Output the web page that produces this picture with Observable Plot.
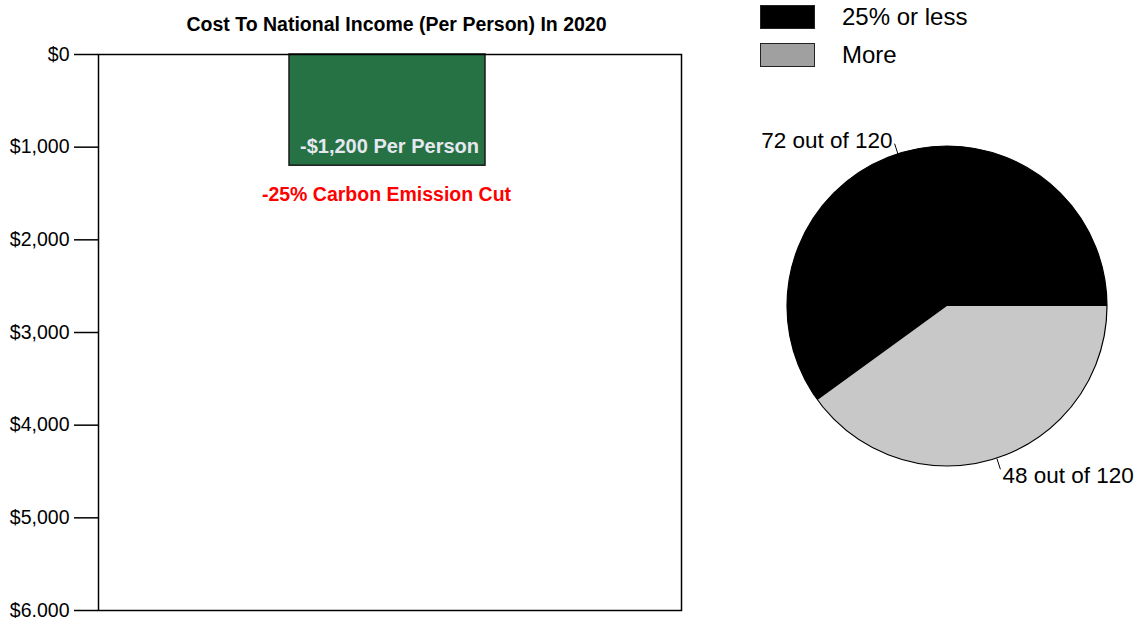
<!DOCTYPE html>
<html>
<head>
<meta charset="utf-8">
<script src="https://cdn.jsdelivr.net/npm/d3@7"></script>
<script src="https://cdn.jsdelivr.net/npm/@observablehq/plot@0.6"></script>
<style>
  body { margin: 0; background: #fff; }
  #root { position: relative; width: 1136px; height: 618px; overflow: hidden; font-family: "Liberation Sans", Arial, sans-serif; color: #000; }
  #title { position: absolute; left: 0; top: 15px; width: 793px; text-align: center; font-weight: bold; font-size: 19.5px; line-height: 19px; }
  #bars { position: absolute; left: 0; top: 0; }
  #pie { position: absolute; left: 760px; top: 0; }
  .legend-item { position: absolute; left: 760px; height: 24px; }
  .legend-swatch { position: absolute; left: 0; top: 0; width: 55px; height: 24px; box-sizing: border-box; border: 1.5px solid #222; }
  .legend-text { position: absolute; left: 82px; top: 0; font-size: 24px; line-height: 22px; white-space: nowrap; }
</style>
</head>
<body>
<div id="root">
  <div id="title">Cost To National Income (Per Person) In 2020</div>
  <div id="bars"></div>
  <div id="pie"></div>
  <div id="legend"></div>
</div>
<script>
// ---- Data ----
const barCategories = ["-25% Carbon Emission Cut"];
const barCosts = [1200];
const barValueLabels = ["-$1,200 Per Person"];
const yTicks = [0, 1000, 2000, 3000, 4000, 5000, 6000];
const yTickLabels = ["$0", "$1,000", "$2,000", "$3,000", "$4,000", "$5,000", "$6.000"];

const pieCategories = ["25% or less", "More"];
const pieCounts = [72, 48];
const pieLabels = ["72 out of 120", "48 out of 120"];
const pieColors = ["#000000", "#c8c8c8"];
const legendColors = ["#000000", "#a0a0a0"];

// ---- Bar chart ----
const barData = barCategories.map((c, i) => ({category: c, cost: barCosts[i], label: barValueLabels[i]}));

const barPlot = Plot.plot({
  width: 700,
  height: 618,
  marginLeft: 98,
  marginRight: 19,
  marginTop: 54,
  marginBottom: 8,
  style: {fontFamily: "Liberation Sans, Arial, sans-serif", fontSize: "20px", color: "#000", background: "transparent", overflow: "visible"},
  x: {domain: barCategories, padding: 0.497, align: 0.4935, axis: null},
  y: {domain: [0, 6000], reverse: true, axis: null},
  marks: [
    Plot.barY(barData, {x: "category", y: "cost", fill: "#267245", stroke: "#1a1a1a", strokeWidth: 1.5}),
    Plot.text(barData, {x: "category", y: "cost", text: "label", fill: "#e6e8ef", fontWeight: "bold", fontSize: 20, dx: 2, dy: -19, lineAnchor: "middle", style: "letter-spacing:0.5px"}),
    Plot.text(barData, {x: "category", y: "cost", text: "category", fill: "#ff0000", fontWeight: "bold", fontSize: 19.5, dx: -1, dy: 29, lineAnchor: "middle"}),
    Plot.frame({stroke: "#000", strokeWidth: 1.5}),
    Plot.axisY({ticks: yTicks, tickFormat: d => yTickLabels[yTicks.indexOf(d)], tickSize: 24, tickPadding: 5, strokeWidth: 1.5, fontSize: 19.5, label: null})
  ]
});
document.getElementById("bars").appendChild(barPlot);

// ---- Pie chart ----
const pieData = pieCategories.map((c, i) => ({category: c, count: pieCounts[i], label: pieLabels[i], color: pieColors[i]}));
// "More" slice begins at 3 o'clock, going clockwise
const arcs = d3.pie().sort(null).value(d => d.count)
  .startAngle(Math.PI / 2).endAngle(Math.PI / 2 + 2 * Math.PI)(pieData.slice().reverse());
const labelData = arcs.map(a => {
  const mid = (a.startAngle + a.endAngle) / 2;
  return {
    label: a.data.label,
    x1: Math.sin(mid), y1: Math.cos(mid),
    x2: Math.sin(mid) * 1.07, y2: Math.cos(mid) * 1.07,
    left: Math.sin(mid) < 0
  };
});

const pieMark = (index, scales) => {
  const cx = scales.x(0), cy = scales.y(0), r = scales.x(1) - scales.x(0);
  const g = d3.create("svg:g").attr("transform", `translate(${cx},${cy})`);
  const arc = d3.arc().innerRadius(0).outerRadius(r);
  g.selectAll("path").data(arcs).join("path").attr("d", arc).attr("fill", d => d.data.color);
  g.append("circle").attr("r", r).attr("fill", "none").attr("stroke", "#000").attr("stroke-width", 1.2);
  return g.node();
};

const piePlot = Plot.plot({
  width: 376,
  height: 618,
  style: {fontFamily: "Liberation Sans, Arial, sans-serif", fontSize: "22.5px", color: "#000", background: "transparent", overflow: "visible"},
  x: {domain: [-1, 1], range: [27, 347], axis: null},
  y: {domain: [-1, 1], range: [466, 146], axis: null},
  marks: [
    pieMark,
    Plot.link(labelData, {x1: "x1", y1: "y1", x2: "x2", y2: "y2", stroke: "#000", strokeWidth: 1}),
    Plot.text(labelData.filter(d => d.left), {x: "x2", y: "y2", text: "label", textAnchor: "end", lineAnchor: "middle", dx: -2, dy: -3, fontSize: 22.5, fill: "#000"}),
    Plot.text(labelData.filter(d => !d.left), {x: "x2", y: "y2", text: "label", textAnchor: "start", lineAnchor: "middle", dx: 2, dy: 6, fontSize: 22.5, fill: "#000"})
  ]
});
document.getElementById("pie").appendChild(piePlot);

// ---- Legend ----
const legend = document.getElementById("legend");
pieCategories.forEach((c, i) => {
  const item = document.createElement("div");
  item.className = "legend-item";
  item.style.top = (5 + i * 38) + "px";
  const sw = document.createElement("div");
  sw.className = "legend-swatch";
  sw.style.background = legendColors[i];
  const tx = document.createElement("div");
  tx.className = "legend-text";
  tx.style.top = "1px";
  tx.textContent = c;
  item.appendChild(sw);
  item.appendChild(tx);
  legend.appendChild(item);
});
</script>
</body>
</html>
